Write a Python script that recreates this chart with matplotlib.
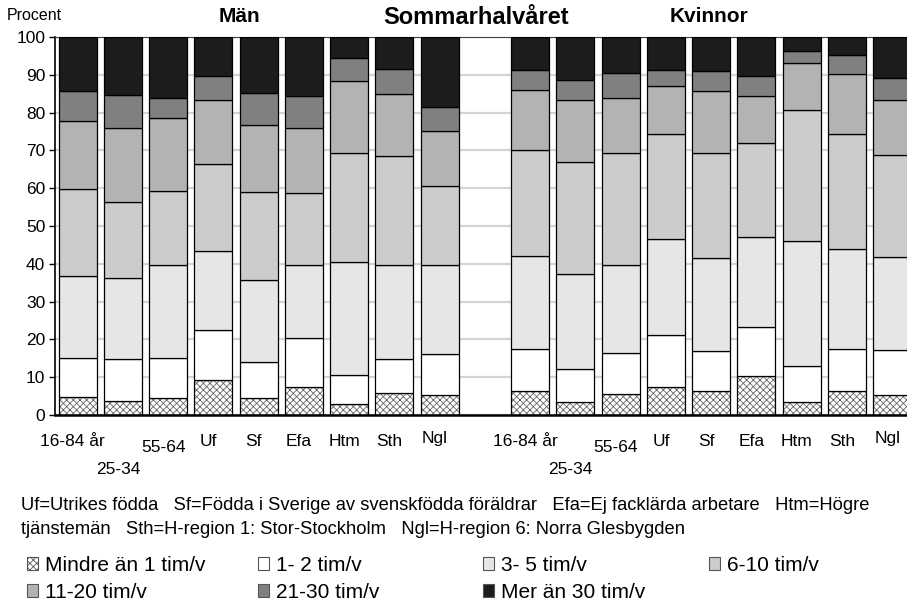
import matplotlib
matplotlib.use("Agg")
import matplotlib.pyplot as plt
import matplotlib.patches as mpatches
import numpy as np

plt.rcParams["font.family"] = ["Liberation Sans", "DejaVu Sans"]
plt.rcParams["hatch.linewidth"] = 0.6

# kategorier (samma för män och kvinnor)
groups = ["16-84 år", "25-34", "55-64", "Uf", "Sf", "Efa", "Htm", "Sth", "Ngl"]

series_labels = ["Mindre än 1 tim/v", "1- 2 tim/v", "3- 5 tim/v", "6-10 tim/v",
                 "11-20 tim/v", "21-30 tim/v", "Mer än 30 tim/v"]

# andel i procent per serie, män
man_lt1 = [4.8, 3.7, 4.4, 9.3, 4.4, 7.3, 2.8, 5.9, 5.2]
man_1_2 = [10.2, 11.0, 10.6, 13.3, 9.7, 13.2, 7.9, 8.8, 10.9]
man_3_5 = [21.7, 21.6, 24.7, 20.7, 21.6, 19.1, 29.7, 24.9, 23.5]
man_6_10 = [23.2, 20.0, 19.5, 23.1, 23.2, 19.1, 29.0, 29.0, 20.9]
man_11_20 = [17.8, 19.5, 19.4, 16.9, 17.8, 17.2, 18.9, 16.3, 14.7]
man_21_30 = [8.0, 8.8, 5.2, 6.4, 8.4, 8.5, 6.2, 6.7, 6.4]
man_gt30 = [14.3, 15.4, 16.2, 10.3, 14.9, 15.6, 5.5, 8.4, 18.4]

# kvinnor
kv_lt1 = [6.4, 3.5, 5.6, 7.5, 6.3, 10.2, 3.4, 6.3, 5.2]
kv_1_2 = [11.0, 8.8, 10.7, 13.6, 10.7, 13.2, 9.5, 11.1, 11.9]
kv_3_5 = [24.6, 24.9, 23.3, 25.5, 24.6, 23.8, 33.2, 26.4, 24.7]
kv_6_10 = [28.2, 29.8, 29.8, 27.8, 27.8, 24.8, 34.5, 30.5, 26.9]
kv_11_20 = [15.7, 16.3, 14.4, 12.7, 16.2, 12.5, 12.6, 16.0, 14.7]
kv_21_30 = [5.4, 5.2, 6.8, 4.1, 5.4, 5.3, 3.2, 4.9, 5.8]
kv_gt30 = [8.7, 11.5, 9.4, 8.8, 9.0, 10.2, 3.6, 4.8, 10.8]

man = [man_lt1, man_1_2, man_3_5, man_6_10, man_11_20, man_21_30, man_gt30]
kv = [kv_lt1, kv_1_2, kv_3_5, kv_6_10, kv_11_20, kv_21_30, kv_gt30]

colors = ["white", "white", "#e6e6e6", "#cccccc", "#b3b3b3", "#808080", "#1c1c1c"]
hatches = ["xxxxx", None, None, None, None, None, None]

n = len(groups)
x_man = np.arange(n)
x_kv = np.arange(n) + n + 1   # en tom plats mellan män och kvinnor
x_all = np.concatenate([x_man, x_kv])

fig = plt.figure(figsize=(9.07, 6.01), dpi=100)
ax = fig.add_axes([55 / 907, 1 - 415 / 601, 859.75 / 907, 378 / 601])

width = 0.84
bottom = np.zeros(2 * n)
for i in range(len(series_labels)):
    vals = np.array(man[i] + kv[i])
    if hatches[i]:
        ax.bar(x_all, vals, width, bottom=bottom, color=colors[i],
               hatch=hatches[i], edgecolor="#666666", linewidth=0, zorder=2)
        ax.bar(x_all, vals, width, bottom=bottom, facecolor="none",
               edgecolor="black", linewidth=0.9, zorder=3)
    else:
        ax.bar(x_all, vals, width, bottom=bottom, color=colors[i],
               edgecolor="black", linewidth=0.9, zorder=3)
    bottom += vals

ax.set_xlim(-0.5, 2 * n + 0.5)
ax.set_ylim(0, 100)
ax.set_yticks(np.arange(0, 101, 10))
ax.tick_params(axis="y", labelsize=12.5, length=4, width=1, pad=3)
ax.set_xticks([])
ax.yaxis.grid(True, color="#d4d4d4", linewidth=1.6, zorder=0)
ax.set_axisbelow(True)
ax.spines["right"].set_visible(False)
ax.spines["top"].set_color("#404040")
ax.spines["left"].set_linewidth(1.2)
ax.spines["bottom"].set_linewidth(1.8)

# förskjutna kategorietiketter som i originalet
label_dy = [27, 55, 32, 27, 27, 27, 27, 27, 23]
for xs in (x_man, x_kv):
    for xi, lab, dy in zip(xs, groups, label_dy):
        ax.annotate(lab, (xi, 0), xytext=(-5, -dy), textcoords="offset pixels",
                    ha="center", va="center", fontsize=12.5)

fig.text(7 / 907, 1 - 15 / 601, "Procent", fontsize=11.5, va="center", ha="left")
fig.text(239 / 907, 1 - 17 / 601, "Män", fontsize=15, fontweight="bold",
         ha="center", va="center")
fig.text(476 / 907, 1 - 18 / 601, "Sommarhalvåret", fontsize=17, fontweight="bold",
         ha="center", va="center")
fig.text(709 / 907, 1 - 17 / 601, "Kvinnor", fontsize=15, fontweight="bold",
         ha="center", va="center")

fig.text(21 / 907, 1 - 505 / 601,
         "Uf=Utrikes födda   Sf=Födda i Sverige av svenskfödda föräldrar   "
         "Efa=Ej facklärda arbetare   Htm=Högre",
         fontsize=13.2, va="center", ha="left")
fig.text(21 / 907, 1 - 529 / 601,
         "tjänstemän   Sth=H-region 1: Stor-Stockholm   Ngl=H-region 6: Norra Glesbygden",
         fontsize=13.2, va="center", ha="left")

handles = [mpatches.Patch(facecolor=c, edgecolor="#555555", linewidth=0.8,
                          hatch=h, label=l)
           for c, h, l in zip(colors, hatches, series_labels)]
col_x = [27, 258, 483, 709]
for k, cx in enumerate(col_x):
    hs = handles[k::4]
    fig.legend(handles=hs, loc="upper left", bbox_to_anchor=(cx / 907, 1 - 556 / 601),
               frameon=False, fontsize=15, handlelength=0.55, handleheight=0.55,
               handletextpad=0.3, labelspacing=0.39, borderpad=0, borderaxespad=0)

fig.savefig("out.png", dpi=100)
